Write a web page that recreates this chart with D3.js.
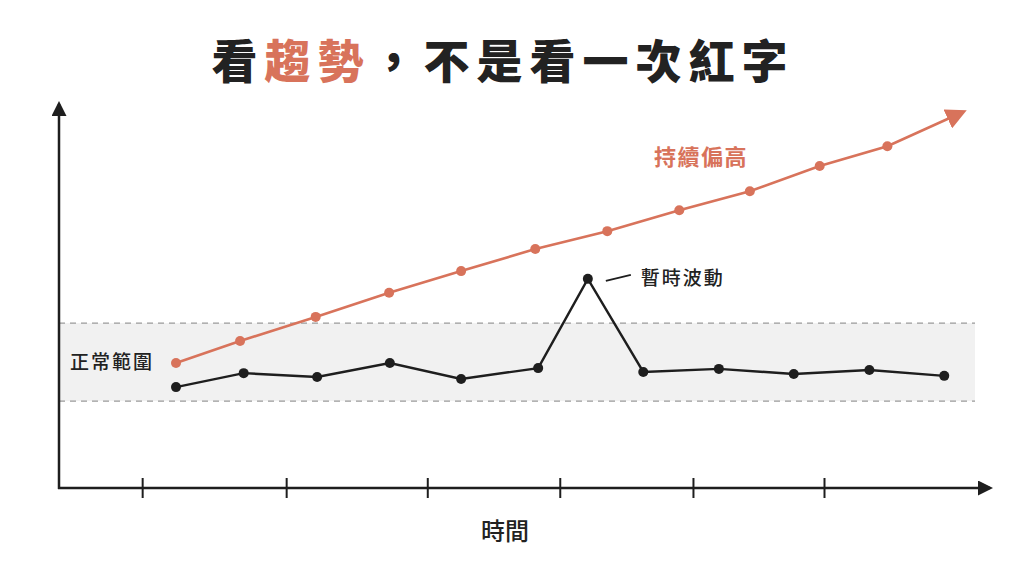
<!DOCTYPE html>
<html>
<head>
<meta charset="utf-8">
<script src="https://cdn.jsdelivr.net/npm/d3@7"></script>
<style>
  html, body { margin: 0; padding: 0; background: #fff; }
  svg { display: block; font-family: "Noto Sans CJK TC", "Noto Sans CJK SC", sans-serif; }
</style>
</head>
<body>
<div class="chart"></div>
<script>
// time positions (in steps) and values (0-100 scale)
const stableT = [0, 0.94, 1.96, 2.97, 3.96, 5.03, 5.72, 6.49, 7.54, 8.58, 9.63, 10.67];
const stableV = [26.0, 29.6, 28.6, 32.2, 28.1, 30.9, 53.9, 29.9, 30.7, 29.4, 30.4, 28.9];
const trendT = [0, 0.89, 1.94, 2.96, 3.96, 4.99, 5.99, 6.99, 7.97, 8.94, 9.88];
const trendV = [32.2, 37.9, 44.1, 50.3, 55.9, 61.6, 66.2, 71.6, 76.5, 83.0, 88.1];
const trendEnd = { t: 10.93, v: 96.9 };
const bandRange = [22.4, 42.5];
const tickT = [-0.47, 1.53, 3.49, 5.33, 7.18, 9.0];
const spikeIndex = 6;

const titleParts = [
  { text: "看", color: "#222" },
  { text: "趨勢", color: "#d8735b" },
  { text: "，不是看一次紅字", color: "#222" }
];
const bandLabel = "正常範圍";
const trendLabel = "持續偏高";
const spikeLabel = "暫時波動";
const xLabel = "時間";

const orange = "#d8735b";
const dark = "#1e1e1e";

const width = 1024, height = 576;
const svg = d3.select(".chart").append("svg")
  .attr("width", width).attr("height", height);

const xScale = d3.scaleLinear().domain([0, 11]).range([176, 968]);
const yScale = d3.scaleLinear().domain([0, 100]).range([488, 100]);

const defs = svg.append("defs");
defs.append("marker").attr("id", "arrowDark")
  .attr("viewBox", "0 0 10 10").attr("refX", 8).attr("refY", 5)
  .attr("markerWidth", 6).attr("markerHeight", 6).attr("markerUnits", "strokeWidth")
  .attr("orient", "auto")
  .append("path").attr("d", "M0,0 L10,5 L0,10 Z").attr("fill", dark);
defs.append("marker").attr("id", "arrowOrange")
  .attr("viewBox", "0 0 10 10").attr("refX", 8).attr("refY", 5)
  .attr("markerWidth", 8).attr("markerHeight", 8).attr("markerUnits", "strokeWidth")
  .attr("orient", "auto")
  .append("path").attr("d", "M0,0 L10,5 L0,10 Z").attr("fill", orange);

// title
const title = svg.append("text")
  .attr("x", 503).attr("y", 78)
  .attr("text-anchor", "middle")
  .attr("font-size", 46).attr("font-weight", 900)
  .attr("letter-spacing", 7);
titleParts.forEach(p => title.append("tspan").attr("fill", p.color).text(p.text));

// normal band
const bandLeft = 59, bandRight = 975;
svg.append("rect")
  .attr("x", bandLeft).attr("width", bandRight - bandLeft)
  .attr("y", yScale(bandRange[1]))
  .attr("height", yScale(bandRange[0]) - yScale(bandRange[1]))
  .attr("fill", "#f1f1f1");
bandRange.forEach(v => {
  svg.append("line")
    .attr("x1", bandLeft).attr("x2", bandRight)
    .attr("y1", yScale(v)).attr("y2", yScale(v))
    .attr("stroke", "#9a9a9a").attr("stroke-width", 1.3)
    .attr("stroke-dasharray", "6,5");
});
svg.append("text")
  .attr("x", 70).attr("y", yScale((bandRange[0] + bandRange[1]) / 2) + 7)
  .attr("font-size", 19).attr("font-weight", 500).attr("fill", "#222").attr("letter-spacing", 2)
  .text(bandLabel);

// x axis
const xAxis = d3.axisBottom(xScale).tickValues(tickT).tickSize(10).tickFormat("");
const gx = svg.append("g").attr("transform", `translate(0,${yScale(0)})`).call(xAxis);
gx.select(".domain").remove();
gx.selectAll(".tick line").attr("y1", -10).attr("y2", 10)
  .attr("stroke", dark).attr("stroke-width", 2);

svg.append("line")
  .attr("x1", 58).attr("x2", 990)
  .attr("y1", yScale(0)).attr("y2", yScale(0))
  .attr("stroke", dark).attr("stroke-width", 2.5)
  .attr("marker-end", "url(#arrowDark)");
svg.append("line")
  .attr("x1", 59).attr("x2", 59)
  .attr("y1", yScale(0) + 1).attr("y2", 104)
  .attr("stroke", dark).attr("stroke-width", 2.5)
  .attr("marker-end", "url(#arrowDark)");

svg.append("text")
  .attr("x", 505).attr("y", 540).attr("text-anchor", "middle")
  .attr("font-size", 24).attr("font-weight", 500).attr("fill", "#222")
  .text(xLabel);

// trend line (orange)
const trendData = trendT.map((t, i) => ({ t, v: trendV[i] }));
const line = d3.line().x(d => xScale(d.t)).y(d => yScale(d.v));
svg.append("path")
  .datum(trendData.concat([trendEnd]))
  .attr("d", line)
  .attr("fill", "none").attr("stroke", orange).attr("stroke-width", 2.6)
  .attr("marker-end", "url(#arrowOrange)");
svg.selectAll(".tdot").data(trendData).enter().append("circle")
  .attr("class", "tdot")
  .attr("cx", d => xScale(d.t)).attr("cy", d => yScale(d.v))
  .attr("r", 5).attr("fill", orange);

svg.append("text")
  .attr("x", 654).attr("y", 165)
  .attr("font-size", 22).attr("font-weight", 700).attr("fill", orange)
  .attr("letter-spacing", 1.5)
  .text(trendLabel);

// stable line (dark)
const stableData = stableT.map((t, i) => ({ t, v: stableV[i] }));
svg.append("path")
  .datum(stableData)
  .attr("d", line)
  .attr("fill", "none").attr("stroke", dark).attr("stroke-width", 2.4)
  .attr("stroke-linejoin", "miter");
svg.selectAll(".sdot").data(stableData).enter().append("circle")
  .attr("class", "sdot")
  .attr("cx", d => xScale(d.t)).attr("cy", d => yScale(d.v))
  .attr("r", 5).attr("fill", dark);

// spike annotation
const spike = stableData[spikeIndex];
const sx = xScale(spike.t), sy = yScale(spike.v);
svg.append("line")
  .attr("x1", sx + 18).attr("y1", sy + 2)
  .attr("x2", sx + 43).attr("y2", sy - 4)
  .attr("stroke", dark).attr("stroke-width", 1.8);
svg.append("text")
  .attr("x", sx + 53).attr("y", sy + 6)
  .attr("font-size", 19).attr("font-weight", 500).attr("fill", "#222").attr("letter-spacing", 2)
  .text(spikeLabel);
</script>
</body>
</html>
